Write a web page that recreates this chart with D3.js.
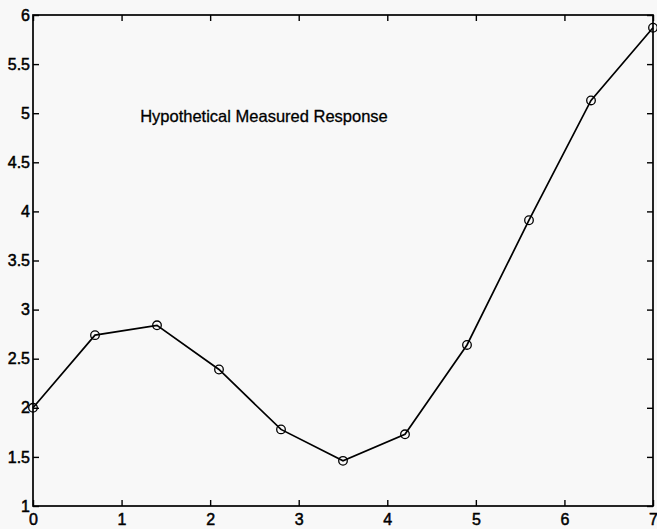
<!DOCTYPE html>
<html>
<head>
<meta charset="utf-8">
<script src="https://cdn.jsdelivr.net/npm/d3@7"></script>
<style>
  body { margin: 0; background: #f8f8f8; }
  .canvas text { font-family: "Liberation Sans", Arial, sans-serif; fill: #000; }
</style>
</head>
<body>
<div class="canvas"></div>
<script>
// data
const xValues = [0, 0.7, 1.4, 2.1, 2.8, 3.5, 4.2, 4.9, 5.6, 6.3, 7.0];
const yValues = [2.0, 2.74, 2.84, 2.39, 1.78, 1.46, 1.73, 2.64, 3.91, 5.13, 5.87];
const xTicks = [0, 1, 2, 3, 4, 5, 6, 7];
const yTicks = [1, 1.5, 2, 2.5, 3, 3.5, 4, 4.5, 5, 5.5, 6];
const label = 'Hypothetical Measured Response';

const width = 657;
const height = 529;

const margin = { top: 15, right: 4, bottom: 23, left: 33 };
const graphWidth = width - margin.left - margin.right;
const graphHeight = height - margin.top - margin.bottom;

const svg = d3.select('.canvas')
    .append('svg')
    .attr('width', width)
    .attr('height', height);

svg.append('rect')
    .attr('width', width)
    .attr('height', height)
    .attr('fill', '#f8f8f8');

const graph = svg.append('g')
    .attr('transform', `translate(${margin.left}, ${margin.top})`);

const x = d3.scaleLinear()
    .domain([0, 7])
    .range([0, graphWidth]);

const y = d3.scaleLinear()
    .domain([1, 6])
    .range([graphHeight, 0]);

// axes: ticks point inward on all four sides
const xAxis = d3.axisBottom(x).tickValues(xTicks).tickSize(-6).tickPadding(8).tickFormat(d3.format('d'));
const yAxis = d3.axisLeft(y).tickValues(yTicks).tickSize(-6).tickPadding(3).tickFormat(d => d);
const xTop = d3.axisTop(x).tickValues(xTicks).tickSize(-6).tickFormat('');
const yRight = d3.axisRight(y).tickValues(yTicks).tickSize(-6).tickFormat('');

const xAxisGroup = graph.append('g').attr('transform', `translate(0, ${graphHeight})`).call(xAxis);
const yAxisGroup = graph.append('g').call(yAxis);
const xTopGroup = graph.append('g').call(xTop);
const yRightGroup = graph.append('g').attr('transform', `translate(${graphWidth}, 0)`).call(yRight);

[xAxisGroup, yAxisGroup, xTopGroup, yRightGroup].forEach(g => {
    g.select('.domain').remove();
    g.selectAll('line').attr('stroke', '#000').attr('stroke-width', 1.4);
    g.selectAll('text')
        .attr('font-size', '16px')
        .attr('font-family', '"Liberation Sans", Arial, sans-serif')
        .attr('fill', '#000')
        .attr('stroke', '#000')
        .attr('stroke-width', 0.5);
});

// frame
graph.append('rect')
    .attr('width', graphWidth)
    .attr('height', graphHeight)
    .attr('fill', 'none')
    .attr('stroke', '#000')
    .attr('stroke-width', 1.7);

const points = xValues.map((v, i) => ({ x: v, y: yValues[i] }));

const line = d3.line()
    .x(d => x(d.x))
    .y(d => y(d.y));

graph.append('path')
    .datum(points)
    .attr('d', line)
    .attr('fill', 'none')
    .attr('stroke', '#000')
    .attr('stroke-width', 1.7);

graph.selectAll('circle')
    .data(points)
    .enter()
    .append('circle')
    .attr('cx', d => x(d.x))
    .attr('cy', d => y(d.y))
    .attr('r', 4.3)
    .attr('fill', 'none')
    .attr('stroke', '#000')
    .attr('stroke-width', 1.3);

graph.append('text')
    .attr('x', x(1.21))
    .attr('y', y(4.91))
    .attr('font-size', '16.5px')
    .attr('stroke', '#000')
    .attr('stroke-width', 0.3)
    .text(label);
</script>
</body>
</html>
